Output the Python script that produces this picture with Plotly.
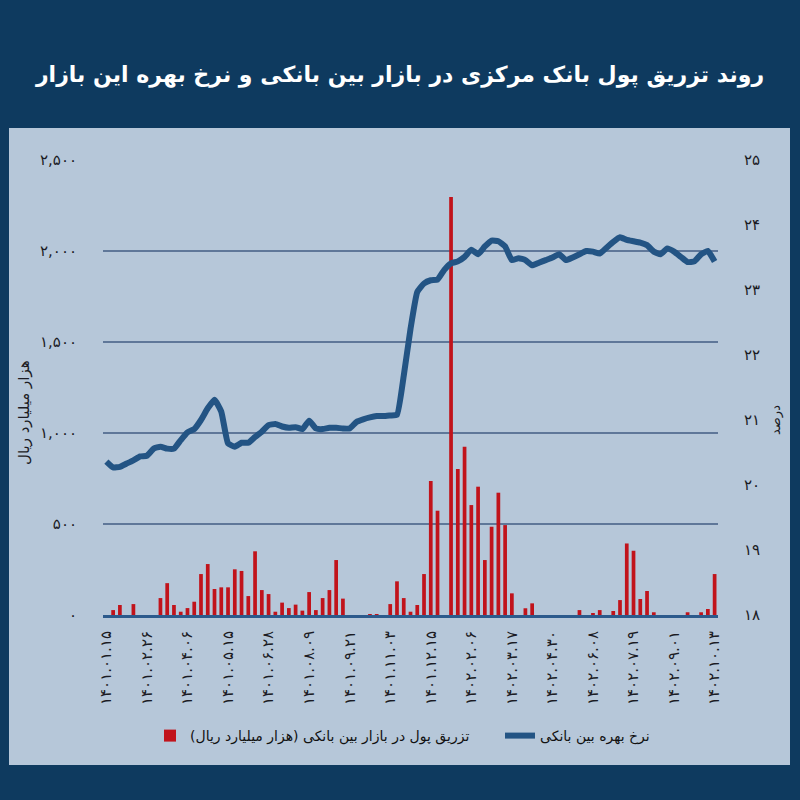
import plotly.graph_objects as go

# ---------------- data ----------------
weeks = list(range(91))  # weekly observations, 1401.01.15 ... 1402.10.13

injection = [
    0, 27, 55, 0, 60, 0, 0, 0, 93, 175,
    55, 18, 38, 73, 225, 280, 143, 152, 152, 251,
    242, 104, 350, 137, 115, 18, 68, 38, 57, 24,
    126, 27, 93, 137, 302, 90, 0, 0, 0, 5,
    5, 0, 60, 185, 93, 18, 55, 225, 736, 573,
    0, 2297, 802, 924, 604, 705, 302, 485, 672, 494,
    119, 0, 37, 64, 0, 0, 0, 0, 0, 0,
    27, 0, 9, 27, 0, 22, 82, 393, 353, 88,
    132, 15, 0, 0, 0, 0, 15, 0, 15, 33,
    225,
]

rate = [
    20.36, 20.27, 20.28, 20.33, 20.38, 20.44, 20.45, 20.56, 20.59, 20.56,
    20.56, 20.69, 20.81, 20.86, 21.00, 21.18, 21.31, 21.13, 20.64, 20.59,
    20.65, 20.65, 20.74, 20.82, 20.92, 20.94, 20.90, 20.88, 20.89, 20.86,
    20.99, 20.87, 20.86, 20.88, 20.88, 20.87, 20.87, 20.97, 21.01, 21.04,
    21.06, 21.06, 21.07, 21.08, 21.68, 22.40, 22.97, 23.10, 23.15, 23.16,
    23.31, 23.41, 23.44, 23.51, 23.62, 23.55, 23.67, 23.76, 23.75, 23.67,
    23.46, 23.49, 23.46, 23.38, 23.42, 23.46, 23.50, 23.55, 23.46, 23.50,
    23.55, 23.60, 23.59, 23.56, 23.65, 23.74, 23.81, 23.77, 23.75, 23.73,
    23.69, 23.59, 23.55, 23.64, 23.59, 23.51, 23.43, 23.44, 23.55, 23.60,
    23.44,
]

tick_pos = [0, 6, 12, 18, 24, 30, 36, 42, 48, 54, 60, 66, 72, 78, 84, 90]
tick_labels = [
    "۱۴۰۱.۰۱.۱۵", "۱۴۰۱.۰۲.۲۶", "۱۴۰۱.۰۴.۰۶", "۱۴۰۱.۰۵.۱۵",
    "۱۴۰۱.۰۶.۲۸", "۱۴۰۱.۰۸.۰۹", "۱۴۰۱.۰۹.۲۱", "۱۴۰۱.۱۱.۰۳",
    "۱۴۰۱.۱۲.۱۵", "۱۴۰۲.۰۲.۰۶", "۱۴۰۲.۰۳.۱۷", "۱۴۰۲.۰۴.۳۰",
    "۱۴۰۲.۰۶.۰۸", "۱۴۰۲.۰۷.۱۹", "۱۴۰۲.۰۹.۰۱", "۱۴۰۲.۱۰.۱۳",
]

left_vals = [0, 500, 1000, 1500, 2000, 2500]
left_text = ["۰", "۵۰۰", "۱,۰۰۰", "۱,۵۰۰", "۲,۰۰۰", "۲,۵۰۰"]
right_vals = [18, 19, 20, 21, 22, 23, 24, 25]
right_text = ["۱۸", "۱۹", "۲۰", "۲۱", "۲۲", "۲۳", "۲۴", "۲۵"]

title_text = "روند تزریق پول بانک مرکزی در بازار بین بانکی و نرخ بهره این بازار"
bar_name = "تزریق پول در بازار بین بانکی (هزار میلیارد ریال)"
line_name = "نرخ بهره بین بانکی"
left_title = "هزار میلیارد ریال"
right_title = "درصد"

# ---------------- style ----------------
FONT = "DejaVu Sans"
NAVY = "#0e3a5f"
PANEL = "#b6c7d9"
GRID = "#5f7799"
TEXT = "#1b1b24"
RED = "#c1131b"
BLUE = "#235484"

fig = go.Figure()
fig.add_trace(go.Bar(
    x=weeks, y=injection, name=bar_name,
    marker=dict(color=RED, line=dict(width=0)),
    yaxis="y", legend="legend",
))
fig.add_trace(go.Scatter(
    x=weeks, y=rate, name=line_name, mode="lines",
    line=dict(color=BLUE, width=6, shape="spline", smoothing=0.4),
    yaxis="y2", legend="legend2",
))

L, R, T, B = 103, 82, 160, 185
W = H = 800
pw = W - L - R
ph = H - T - B


def px_x(x):
    return (x - L) / pw


def px_y(y):
    return (H - B - y) / ph


legend_common = dict(
    orientation="h", xanchor="left", yanchor="middle",
    font=dict(size=14, color="#111111", family=FONT),
    bgcolor="rgba(0,0,0,0)",
)

fig.update_layout(
    width=W, height=H,
    margin=dict(l=L, r=R, t=T, b=B, pad=0),
    paper_bgcolor=NAVY,
    plot_bgcolor="rgba(0,0,0,0)",
    font=dict(family=FONT, color=TEXT),
    bargap=0.45,
    showlegend=True,
    title=dict(
        text=title_text, x=0.5, xanchor="center", xref="container",
        y=1 - 74 / H, yanchor="middle", yref="container",
        font=dict(family=FONT, size=22, color="white", weight="bold"),
    ),
    xaxis=dict(
        range=[-0.5, 90.5], tickmode="array", tickvals=tick_pos, ticktext=tick_labels,
        tickangle=-90, tickfont=dict(size=15, color=TEXT),
        ticks="outside", ticklen=7, tickcolor="rgba(0,0,0,0)",
        showgrid=False, zeroline=False,
        showline=True, linecolor="#2c5a8c", linewidth=3,
    ),
    yaxis=dict(
        range=[0, 2500], tickmode="array", tickvals=left_vals, ticktext=left_text,
        tickfont=dict(size=15, color=TEXT),
        ticks="outside", ticklen=22, tickcolor="rgba(0,0,0,0)",
        showgrid=True, gridcolor=GRID, gridwidth=2, zeroline=False,
        showline=False,
    ),
    yaxis2=dict(
        range=[18, 25], overlaying="y", side="right",
        tickmode="array", tickvals=right_vals, ticktext=right_text,
        tickfont=dict(size=15, color=TEXT),
        ticks="outside", ticklen=22, tickcolor="rgba(0,0,0,0)",
        showgrid=False, zeroline=False, showline=False,
    ),
    legend=dict(x=px_x(150), y=px_y(736), **legend_common),
    legend2=dict(x=px_x(500), y=px_y(736), **legend_common),
    shapes=[
        dict(type="rect", xref="paper", yref="paper",
             x0=px_x(9), x1=px_x(790), y0=px_y(765), y1=px_y(128),
             fillcolor=PANEL, line=dict(width=0), layer="below"),
    ],
    annotations=[
        dict(text=left_title, xref="paper", yref="paper", x=px_x(24), y=px_y(413),
             textangle=-90, showarrow=False, font=dict(size=15, color=TEXT),
             xanchor="center", yanchor="middle"),
        dict(text=right_title, xref="paper", yref="paper", x=px_x(776), y=px_y(420),
             textangle=-90, showarrow=False, font=dict(size=13, color=TEXT),
             xanchor="center", yanchor="middle"),
    ],
)

fig.write_html("out.html")
